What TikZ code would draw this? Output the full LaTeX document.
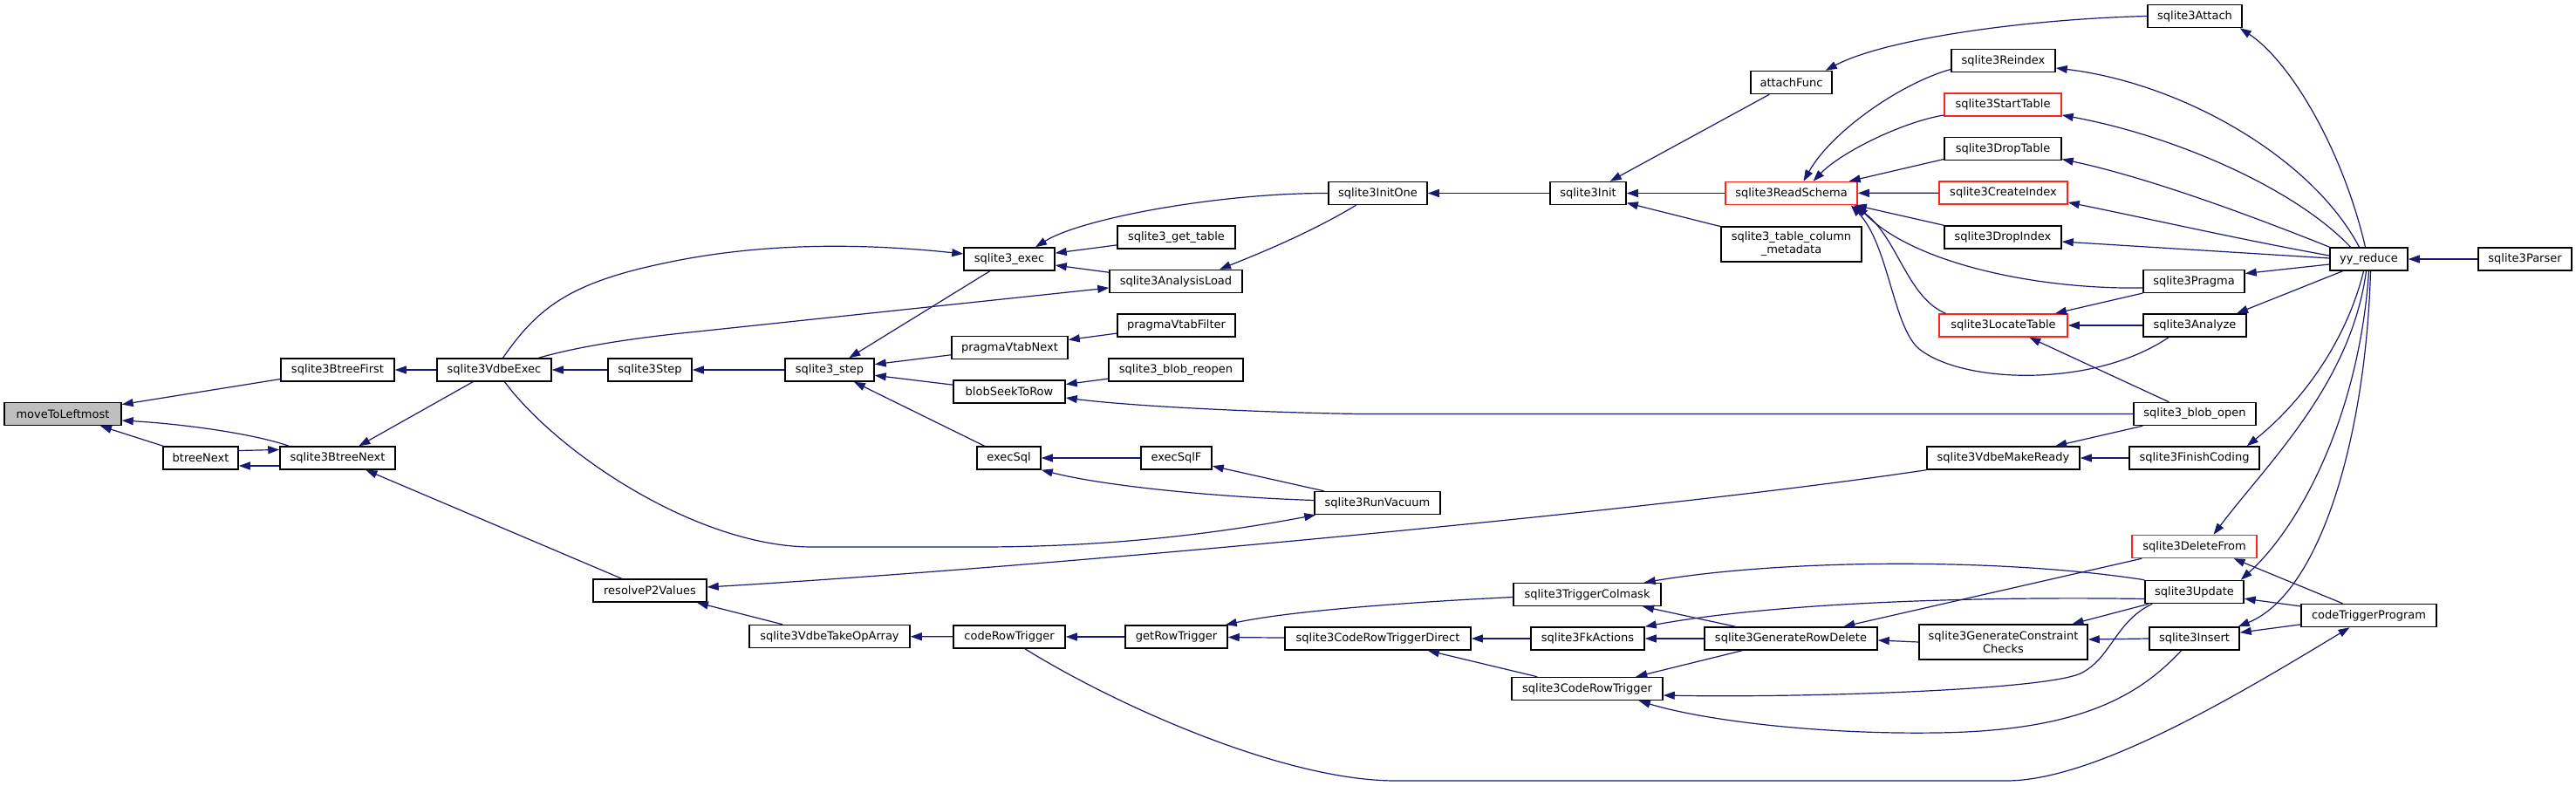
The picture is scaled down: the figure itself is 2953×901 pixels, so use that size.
\documentclass[tikz,border=0pt]{standalone}
\usepackage{fontspec}
\setmainfont{DejaVu Sans}
\usetikzlibrary{arrows.meta}
\definecolor{mblue}{HTML}{191970}
\definecolor{rootgray}{HTML}{BFBFBF}
\definecolor{boxred}{HTML}{FF2020}
\begin{document}
\begin{tikzpicture}[x=1pt,y=-1pt,
  box/.style={draw=black,line width=1.5pt,fill=white,inner sep=0pt,minimum height=26pt,
    font=\fontsize{13pt}{15pt}\selectfont,align=center},
  redbox/.style={box,draw=boxred},
  callarrow/.style={draw=mblue,line width=1.2pt,-{Triangle[length=13pt,width=9pt]}}]
\fill[white] (0,0) rectangle (2953,901);
\useasboundingbox (0,0) rectangle (2953,901);
% nodes
\node[box,fill=rootgray,minimum width=134pt] (mtl) at (72,474.5) {moveToLeftmost};
\node[box,minimum width=130pt] (bfirst) at (387,424) {sqlite3BtreeFirst};
\node[box,minimum width=131pt] (vexec) at (566.5,424) {sqlite3VdbeExec};
\node[box,minimum width=86pt] (bnext) at (230,525) {btreeNext};
\node[box,minimum width=132pt] (btnext) at (387,525) {sqlite3BtreeNext};
\node[box,minimum width=130pt] (rp2v) at (745,677) {resolveP2Values};
\node[box,minimum width=96pt] (step) at (745,424) {sqlite3Step};
\node[box,minimum width=102pt] (s3step) at (951,424) {sqlite3\_step};
\node[box,minimum width=104pt] (exec) at (1157,297) {sqlite3\_exec};
\node[box,minimum width=135pt] (gettable) at (1348.5,272) {sqlite3\_get\_table};
\node[box,minimum width=152pt] (aload) at (1348,322.5) {sqlite3AnalysisLoad};
\node[box,minimum width=135pt] (pvfilter) at (1348.5,373) {pragmaVtabFilter};
\node[box,minimum width=133pt] (pvnext) at (1157.5,398.5) {pragmaVtabNext};
\node[box,minimum width=154pt] (reopen) at (1348,424) {sqlite3\_blob\_reopen};
\node[box,minimum width=128pt] (seek) at (1157,449) {blobSeekToRow};
\node[box,minimum width=73pt] (execsql) at (1156.5,525) {execSql};
\node[box,minimum width=81pt] (execsqlf) at (1348.5,525) {execSqlF};
\node[box,minimum width=184pt] (takeop) at (951,729.5) {sqlite3VdbeTakeOpArray};
\node[box,minimum width=128pt] (crt) at (1157,730) {codeRowTrigger};
\node[box,minimum width=117pt] (grt) at (1348.5,730) {getRowTrigger};
\node[box,minimum width=113pt] (initone) at (1579.5,221.5) {sqlite3InitOne};
\node[box,minimum width=87pt] (init) at (1820.5,221.5) {sqlite3Init};
\node[box,minimum width=93pt] (attachf) at (2053.5,94.5) {attachFunc};
\node[redbox,minimum width=151pt] (readschema) at (2053.5,221.5) {sqlite3ReadSchema};
\node[box,minimum width=161pt,minimum height=40pt] (tcm) at (2053.5,280) {sqlite3\_table\_column\\\_metadata};
\node[box,minimum width=144pt] (vacuum) at (1579,576.5) {sqlite3RunVacuum};
\node[box,minimum width=169pt] (colmask) at (1819.5,681.5) {sqlite3TriggerColmask};
\node[box,minimum width=213pt] (crtd) at (1579.5,732) {sqlite3CodeRowTriggerDirect};
\node[box,minimum width=130pt] (fkact) at (1820,732) {sqlite3FkActions};
\node[box,minimum width=198pt] (grd) at (2053,732) {sqlite3GenerateRowDelete};
\node[box,minimum width=173pt] (crtrig) at (1819.5,789.5) {sqlite3CodeRowTrigger};
\node[box,minimum width=108pt] (attach) at (2516,18.5) {sqlite3Attach};
\node[box,minimum width=119pt] (reindex) at (2296.5,69.5) {sqlite3Reindex};
\node[redbox,minimum width=134pt] (starttable) at (2296,120) {sqlite3StartTable};
\node[box,minimum width=134pt] (droptable) at (2296,170.5) {sqlite3DropTable};
\node[redbox,minimum width=147pt] (createindex) at (2296.5,221) {sqlite3CreateIndex};
\node[box,minimum width=134pt] (dropindex) at (2296,272) {sqlite3DropIndex};
\node[box,minimum width=89pt] (yyr) at (2715.5,297) {yy\_reduce};
\node[box,minimum width=107pt] (parser) at (2894.5,297) {sqlite3Parser};
\node[box,minimum width=116pt] (pragma) at (2515,322.5) {sqlite3Pragma};
\node[redbox,minimum width=147pt] (locate) at (2296.5,373) {sqlite3LocateTable};
\node[box,minimum width=118pt] (analyze) at (2516,373) {sqlite3Analyze};
\node[box,minimum width=140pt] (blobopen) at (2516,474.5) {sqlite3\_blob\_open};
\node[box,minimum width=175pt] (makeready) at (2296.5,525) {sqlite3VdbeMakeReady};
\node[box,minimum width=149pt] (finish) at (2515.5,525) {sqlite3FinishCoding};
\node[redbox,minimum width=143pt] (deletefrom) at (2515.5,626.5) {sqlite3DeleteFrom};
\node[box,minimum width=113pt] (update) at (2515.5,678.5) {sqlite3Update};
\node[box,minimum width=155pt] (ctp) at (2715.5,705.5) {codeTriggerProgram};
\node[box,minimum width=193pt,minimum height=40pt] (gcc) at (2296.5,736) {sqlite3GenerateConstraint\\Checks};
\node[box,minimum width=103pt] (insert) at (2515.5,732) {sqlite3Insert};
% edges (caller -> callee, arrow at callee)
\draw[callarrow] (bfirst) -- (mtl);
\draw[callarrow] (bnext) -- (mtl);
\draw[callarrow] ([xshift=11pt]btnext.north west) .. controls (290,497) and (210,486) .. ([yshift=-7.5pt]mtl.east);
\draw[callarrow] ([yshift=8.5pt]bnext.east) -- ([yshift=9.5pt]btnext.west);
\draw[callarrow] ([yshift=-9pt]btnext.west) -- ([yshift=-9pt]bnext.east);
\draw[callarrow] (vexec) -- (bfirst);
\draw[callarrow] (vexec) -- (btnext);
\draw[callarrow] (rp2v) -- (btnext);
\draw[callarrow] (step) -- (vexec);
\draw[callarrow] ([xshift=10pt]vexec.north) .. controls (615,355) and (650,325) .. (760,302) .. controls (880,276) and (1000,280) .. ([yshift=6pt]exec.west);
\draw[callarrow] ([xshift=51pt]vexec.north) .. controls (660,398) and (720,388) .. (800,380) -- ([yshift=-7.5pt]aload.west);
\draw[callarrow] ([xshift=12pt]vexec.south) .. controls (640,520) and (800,627) .. (931,627) -- (1123,627) .. controls (1300,627) and (1430,605) .. ([xshift=2pt]vacuum.south west);
\draw[callarrow] (s3step) -- (step);
\draw[callarrow] (exec) -- (s3step);
\draw[callarrow] (gettable) -- (exec);
\draw[callarrow] (aload) -- (exec);
\draw[callarrow] (initone.west) .. controls (1400,221) and (1240,250) .. ([xshift=30pt]exec.north);
\draw[callarrow] ([xshift=-25pt]initone.south) .. controls (1500,268) and (1440,292) .. ([xshift=50pt]aload.north);
\draw[callarrow] (pvnext) -- (s3step);
\draw[callarrow] (seek) -- (s3step);
\draw[callarrow] (execsql) -- (s3step);
\draw[callarrow] (pvfilter) -- (pvnext);
\draw[callarrow] (reopen) -- (seek);
\draw[callarrow] (blobopen.west) -- (1560,474.5) .. controls (1450,473) and (1300,466) .. ([yshift=-7pt]seek.east);
\draw[callarrow] (execsqlf) -- (execsql);
\draw[callarrow] ([yshift=3pt]vacuum.west) .. controls (1400,570) and (1270,558) .. (execsql.south east);
\draw[callarrow] (vacuum) -- (execsqlf);
\draw[callarrow] (makeready.south west) .. controls (1900,585) and (1200,650) .. ([yshift=4pt]rp2v.east);
\draw[callarrow] (takeop) -- (rp2v);
\draw[callarrow] (crt) -- (takeop);
\draw[callarrow] (grt) -- (crt);
\draw[callarrow] ([xshift=18pt]crt.south) .. controls (1275,806) and (1470,895) .. (1600,895) -- (2300,895) .. controls (2400,895) and (2560,800) .. ([xshift=-22pt]ctp.south);
\draw[callarrow] (crtd) -- (grt);
\draw[callarrow] ([yshift=-3pt]colmask.west) .. controls (1620,690) and (1480,700) .. ([xshift=-3pt]grt.north east);
\draw[callarrow] (fkact) -- (crtd);
\draw[callarrow] (crtrig) -- (crtd);
\draw[callarrow] (init) -- (initone);
\draw[callarrow] (attachf) -- (init);
\draw[callarrow] (readschema) -- (init);
\draw[callarrow] (tcm) -- (init);
\draw[callarrow] (attach.west) .. controls (2320,22) and (2160,45) .. ([xshift=-8pt]attachf.north east);
\draw[callarrow] ([yshift=-10pt]reindex.west) .. controls (2180,95) and (2100,150) .. ([xshift=14pt]readschema.north);
\draw[callarrow] ([yshift=-12pt]starttable.west) .. controls (2180,140) and (2110,175) .. ([xshift=25pt]readschema.north);
\draw[callarrow] ([yshift=-12pt]droptable.west) -- ([xshift=-10pt]readschema.north east);
\draw[callarrow] (createindex) -- (readschema);
\draw[callarrow] (dropindex.north west) -- ([xshift=-3pt]readschema.south east);
\draw[callarrow] ([yshift=-7.5pt]pragma.west) .. controls (2330,332) and (2190,300) .. ([xshift=-1pt]readschema.south east);
\draw[callarrow] ([xshift=8pt]locate.north west) .. controls (2185,340) and (2175,270) .. ([xshift=-5pt]readschema.south east);
\draw[callarrow] ([xshift=-30pt]analyze.south) .. controls (2400,445) and (2250,440) .. (2200,400) .. controls (2170,375) and (2165,280) .. ([xshift=-8pt]readschema.south east);
\draw[callarrow] (pragma) -- (locate);
\draw[callarrow] (analyze) -- (locate);
\draw[callarrow] (blobopen) -- (locate);
\draw[callarrow] ([xshift=-4pt]yyr.north) .. controls (2685,170) and (2625,70) .. ([xshift=-3pt]attach.south east);
\draw[callarrow] ([xshift=-11pt]yyr.north) .. controls (2650,180) and (2500,95) .. ([yshift=-8.5pt]reindex.east);
\draw[callarrow] ([xshift=-21pt]yyr.north) .. controls (2630,215) and (2490,155) .. ([yshift=-12pt]starttable.east);
\draw[callarrow] ([xshift=-45pt]yyr.north) .. controls (2600,255) and (2470,205) .. ([yshift=-12pt]droptable.east);
\draw[callarrow] ([yshift=4pt]yyr.west) .. controls (2570,275) and (2460,250) .. ([yshift=-11pt]createindex.east);
\draw[callarrow] ([yshift=1pt]yyr.west) -- ([yshift=-5pt]dropindex.east);
\draw[callarrow] ([yshift=-6pt]yyr.west) -- ([yshift=9pt]pragma.east);
\draw[callarrow] ([xshift=-30pt]yyr.south) -- ([xshift=48pt]analyze.north);
\draw[callarrow] (parser) -- (yyr);
\draw[callarrow] ([xshift=-6pt]yyr.south) .. controls (2690,390) and (2640,460) .. ([xshift=-15pt]finish.north east);
\draw[callarrow] ([xshift=-3pt]yyr.south) .. controls (2695,440) and (2600,530) .. ([xshift=22pt]deletefrom.north);
\draw[callarrow] (yyr.south) .. controls (2705,470) and (2640,600) .. ([xshift=-4pt]update.north east);
\draw[callarrow] ([xshift=2pt]yyr.south) .. controls (2712,500) and (2660,680) .. ([xshift=-2pt]insert.north east);
\draw[callarrow] (blobopen) -- (makeready);
\draw[callarrow] (finish) -- (makeready);
\draw[callarrow] (deletefrom) -- (grd);
\draw[callarrow] (update.north west) .. controls (2300,640) and (2050,640) .. ([xshift=-20pt]colmask.north east);
\draw[callarrow] (grd) -- (colmask);
\draw[callarrow] ([yshift=-8pt]update.west) .. controls (2300,684) and (2050,688) .. (fkact.north east);
\draw[callarrow] (grd) -- (fkact);
\draw[callarrow] (grd) -- (crtrig);
\draw[callarrow] ([xshift=9pt]update.south west) .. controls (2425,712) and (2420,755) .. (2385,772) .. controls (2340,792) and (2050,800) .. ([yshift=-7.5pt]crtrig.east);
\draw[callarrow] ([xshift=-15pt]insert.south) .. controls (2450,800) and (2380,838) .. (2220,840) .. controls (2080,842) and (1950,825) .. ([xshift=-28pt]crtrig.south east);
\draw[callarrow] (gcc.west) -- ([yshift=-2pt]grd.east);
\draw[callarrow] (update) -- (gcc);
\draw[callarrow] (insert.west) -- ([yshift=3pt]gcc.east);
\draw[callarrow] (ctp) -- (update);
\draw[callarrow] (ctp) -- (insert);
\draw[callarrow] ([xshift=-30pt]ctp.north) -- ([xshift=45pt]deletefrom.south);
\end{tikzpicture}
\end{document}
